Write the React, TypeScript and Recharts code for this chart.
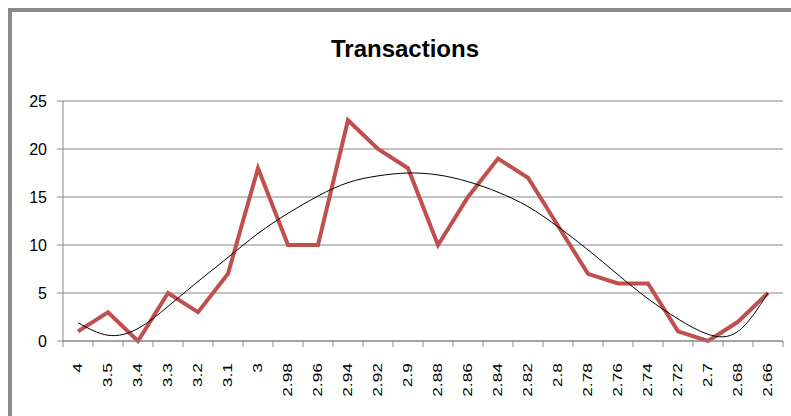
import { LineChart, Line, CartesianGrid, XAxis, YAxis } from "recharts";

const prices = [
  "4", "3.5", "3.4", "3.3", "3.2", "3.1", "3", "2.98", "2.96", "2.94", "2.92", "2.9",
  "2.88", "2.86", "2.84", "2.82", "2.8", "2.78", "2.76", "2.74", "2.72", "2.7", "2.68", "2.66"
];

const transactions = [1, 3, 0, 5, 3, 7, 18, 10, 10, 23, 20, 18, 10, 15, 19, 17, 12, 7, 6, 6, 1, 0, 2, 5];

// polynomial trendline
const trend = [
  1.9, 0.6, 1.3, 3.6, 6.2, 8.7, 11.2, 13.3, 15.1, 16.5, 17.2, 17.5,
  17.3, 16.6, 15.5, 14.0, 11.9, 9.5, 6.9, 4.4, 2.3, 0.7, 1.0, 5.0
];

const yTicks = [0, 5, 10, 15, 20, 25];

const data = prices.map((p, i) => ({ price: p, tx: transactions[i], trend: trend[i] }));

const GRID = "#878787";

function PriceTick(props: any) {
  const { x, y, payload, index, width, visibleTicksCount } = props;
  const count = visibleTicksCount || prices.length;
  const band = (width || 720) / count;
  const left = x - band / 2;
  return (
    <g>
      <line x1={left} y1={y - 6} x2={left} y2={y} stroke={GRID} strokeWidth={1} />
      {index === count - 1 && (
        <line x1={x + band / 2} y1={y - 6} x2={x + band / 2} y2={y} stroke={GRID} strokeWidth={1} />
      )}
      <text
        transform={`translate(${x},${y + 16}) rotate(-90) scale(1.45,1)`}
        textAnchor="end"
        dominantBaseline="central"
        fontSize={12}
        fontFamily="Liberation Sans, Arial, sans-serif"
        fill="#000"
      >
        {payload.value}
      </text>
    </g>
  );
}

export default function App() {
  return (
    <div style={{ position: "absolute", left: 0, top: 0, width: 791, height: 416, background: "#fff", overflow: "hidden" }}>
      <div
        style={{
          position: "absolute",
          left: 8,
          top: 8,
          width: 790,
          height: 420,
          borderTop: "4px solid #8a8a8a",
          borderLeft: "4px solid #8a8a8a"
        }}
      />
      <div
        style={{
          position: "absolute",
          left: 0,
          width: 810,
          top: 37,
          textAlign: "center",
          fontFamily: "Liberation Sans, Arial, sans-serif",
          fontWeight: "bold",
          fontSize: 24,
          lineHeight: "24px",
          color: "#000"
        }}
      >
        Transactions
      </div>
      <div style={{ position: "absolute", left: 0, top: 0 }}>
        <LineChart
          width={791}
          height={416}
          data={data}
          margin={{ top: 101, right: 8, bottom: 0, left: 3 }}
        >
          <CartesianGrid vertical={false} stroke={GRID} strokeWidth={1} />
          <XAxis
            dataKey="price"
            stroke={GRID}
            tickLine={false}
            tickSize={6}
            tickMargin={0}
            interval={0}
            height={75}
            padding={{ left: 15, right: 15 }}
            tick={<PriceTick />}
          />
          <YAxis
            domain={[0, 25]}
            ticks={yTicks}
            width={60}
            stroke={GRID}
            tickSize={6}
            tickMargin={10}
            tick={{ fill: "#000", fontSize: 16, fontFamily: "Liberation Sans, Arial, sans-serif" }}
          />
          <Line
            type="linear"
            dataKey="tx"
            stroke="#C0504D"
            strokeWidth={4}
            dot={false}
            isAnimationActive={false}
          />
          <Line
            type="natural"
            dataKey="trend"
            stroke="#000"
            strokeWidth={1}
            dot={false}
            isAnimationActive={false}
          />
        </LineChart>
      </div>
    </div>
  );
}
